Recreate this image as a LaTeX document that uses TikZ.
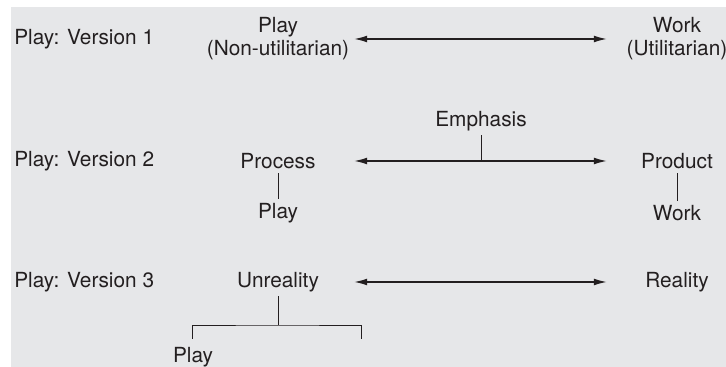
\documentclass[tikz,border=0pt]{standalone}
\usepackage{fontspec}
\setmainfont{TeX Gyre Heros}
\usetikzlibrary{arrows.meta, positioning}
\definecolor{panelgrey}{HTML}{E6E7E9}
\definecolor{inkgrey}{HTML}{231F20}

\begin{document}
\begin{tikzpicture}[
    x=0.025cm, y=-0.025cm,
    every node/.style={text=inkgrey, font=\fontsize{14.8}{16.3}\selectfont},
    rowlabel/.style={anchor=west, inner sep=0pt},
    pole/.style={align=center, inner xsep=0pt, inner ysep=3pt},
    leftpole/.style={pole, minimum width=3.8cm},
    rightpole/.style={pole, minimum width=3.5cm},
    link/.style={draw=inkgrey, line width=0.6pt},
    arrow/.style={draw=inkgrey, line width=0.9pt, >={Latex[length=3.2mm,width=1.7mm]}, <->}
]
    \useasboundingbox (0,0) rectangle (726,367);
    \fill[panelgrey] (11,7) rectangle (726,367);

    % row labels
    \node[rowlabel] (version1) at (14,39) {Play: Version 1};
    \node[rowlabel] (version2) at (14,161) {Play: Version 2};
    \node[rowlabel] (version3) at (14,282) {Play: Version 3};

    % version 1
    \node[leftpole] (play1) at (278,39) {Play\\(Non-utilitarian)};
    \node[rightpole] (work1) at (677,39) {Work\\(Utilitarian)};
    \draw[arrow] (play1) -- (work1);

    % version 2
    \node[leftpole] (process) at (278,161) {Process};
    \node[rightpole] (product) at (677,161) {Product};
    \node[pole] (emphasis) at (481,121) {Emphasis};
    \node[pole] (play2) at (278,213) {Play};
    \node[pole] (work2) at (677,213) {Work};
    \draw[arrow] (process) -- (product);
    \draw[link] (emphasis) -- (emphasis |- process.east);
    \draw[link] (process) -- (play2);
    \draw[link] (product) -- (work2);

    % version 3
    \node[leftpole] (unreality) at (278,282) {Unreality};
    \node[rightpole] (reality) at (677,282) {Reality};
    \node[pole] (play3) at (193,357) {Play};
    \coordinate (fork) at (unreality |- 0,325);
    \coordinate (forkL) at (192,339);
    \coordinate (forkR) at (361,339);
    \draw[arrow] (unreality) -- (reality);
    \draw[link] (unreality) -- (fork);
    \draw[link] (forkL) |- (fork) -| (forkR);
\end{tikzpicture}
\end{document}
